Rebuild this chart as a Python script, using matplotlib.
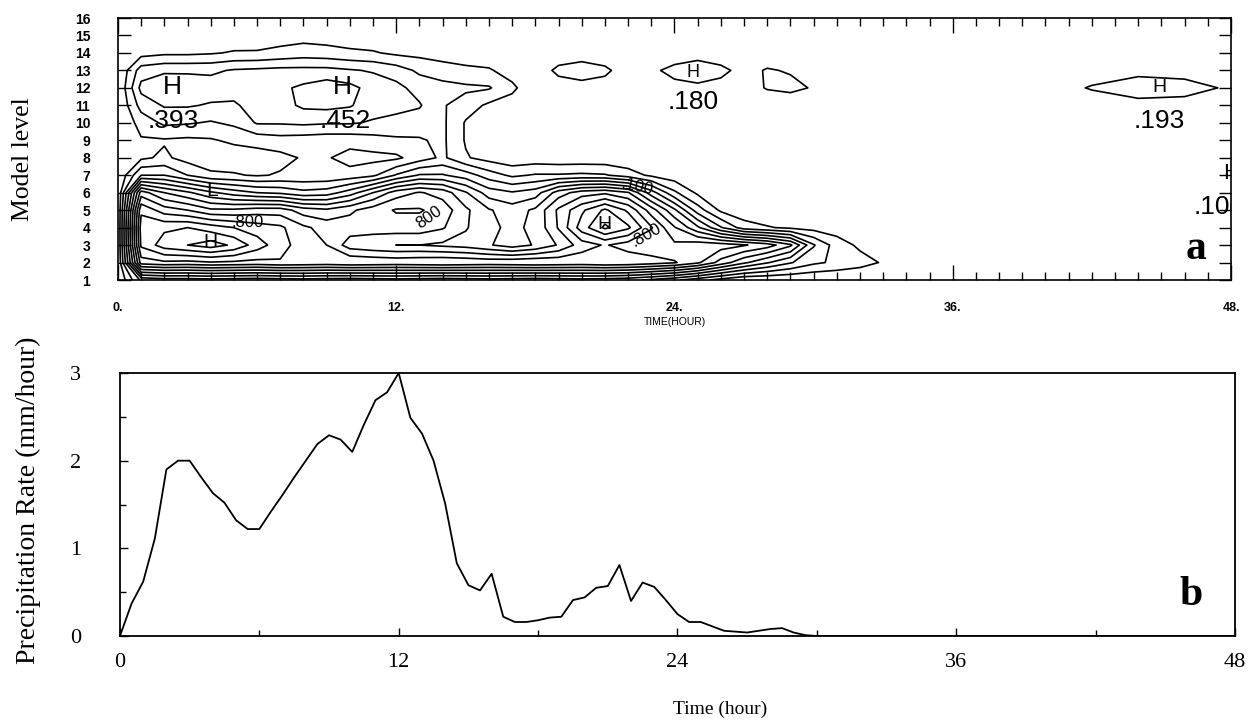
import numpy as np
import matplotlib.pyplot as plt

SERIF = 'Liberation Serif'
SANS = 'Liberation Sans'

# ---------------- panel a: time / model-level section (values x 100)
hours_a = list(range(0, 35)) + [36, 38, 40, 42, 44, 46, 48]
model_levels = list(range(1, 17))
# one profile per hour, model level 1 .. 16
profiles_a = [
    [0, 0, 0, 0, 0, 0, 0, 0, 0, 0, 0, 0, 0, 0, 0, 0],               # 0
    [32, 95, 112, 115, 108, 85, 30, 8, 9, 14, 24, 33, 25, 6, 0, 0],   # 1
    [35, 98, 125, 118, 95, 70, 30, 12, 9, 22, 31, 39, 28, 8, 0, 0],   # 2
    [35, 97, 130, 120, 90, 62, 20, 6, 8, 21, 31, 38, 28, 8, 1, 0],    # 3
    [36, 99, 135, 115, 82, 52, 12, 4, 9, 19, 29, 35, 28, 9, 2, 0],    # 4
    [35, 98, 128, 110, 82, 45, 11, 4, 12, 22, 29, 33, 31, 11, 3, 0],  # 5
    [34, 97, 115, 105, 85, 40, 9, 5, 14, 31, 33, 35, 32, 11, 4, 0],   # 6
    [35, 99, 104, 102, 85, 38, 11, 7, 16, 31, 36, 38, 33, 13, 5, 0],  # 7
    [36, 98, 95, 92, 75, 33, 12, 11, 15, 32, 42, 42, 33, 15, 6, 0],   # 8
    [35, 97, 90, 86, 72, 35, 12, 11, 14, 31, 43, 46, 33, 14, 5, 0],   # 9
    [34, 99, 75, 85, 78, 45, 14, 6, 14, 31, 41, 43, 31, 12, 4, 0],    # 10
    [35, 98, 72, 85, 85, 60, 18, 7, 16, 29, 34, 36, 29, 11, 3, 0],    # 11
    [36, 97, 70, 85, 91, 75, 31, 8, 18, 28, 32, 33, 25, 8, 2, 0],     # 12
    [35, 98, 70, 85, 91, 81, 41, 15, 19, 25, 31, 26, 18, 7, 2, 0],    # 13
    [34, 99, 68, 81, 86, 76, 41, 22, 22, 22, 21, 24, 14, 6, 1, 0],    # 14
    [35, 98, 66, 71, 72, 61, 35, 11, 9, 9, 15, 22, 12, 5, 0, 0],      # 15
    [36, 97, 61, 62, 61, 45, 25, 6, 5, 5, 8, 21, 11, 4, 0, 0],        # 16
    [35, 98, 55, 58, 55, 41, 18, 3, 2, 2, 6, 12, 6, 2, 0, 0],         # 17
    [34, 99, 61, 62, 62, 45, 21, 4, 1, 0, 1, 3, 5, 1, 0, 0],          # 18
    [35, 98, 71, 81, 82, 65, 21, 3, 0, 0, 1, 6, 12, 5, 0, 0],         # 19
    [36, 97, 85, 105, 98, 75, 22, 3, 0, 0, 1, 7, 14, 6, 0, 0],        # 20
    [35, 99, 91, 122, 112, 78, 21, 3, 0, 0, 0, 6, 12, 4, 0, 0],       # 21
    [33, 98, 85, 112, 98, 71, 15, 2, 0, 0, 0, 3, 5, 1, 0, 0],         # 22
    [28, 95, 82, 91, 75, 45, 8, 0, 0, 0, 0, 5, 8, 2, 0, 0],           # 23
    [22, 91, 82, 71, 52, 22, 4, 0, 0, 0, 0, 7, 13, 4, 0, 0],          # 24
    [14, 82, 86, 52, 25, 8, 2, 0, 0, 0, 2, 7, 18, 4, 0, 0],           # 25
    [6, 66, 85, 31, 8, 3, 0, 0, 0, 0, 1, 6, 13, 3, 0, 0],             # 26
    [0, 52, 81, 15, 3, 0, 0, 0, 0, 0, 0, 4, 6, 1, 0, 0],              # 27
    [0, 41, 75, 11, 1, 0, 0, 0, 0, 0, 1, 11, 11, 3, 0, 0],            # 28
    [0, 31, 62, 8, 0, 0, 0, 0, 0, 0, 2, 13, 9, 1, 0, 0],              # 29
    [0, 22, 31, 6, 0, 0, 0, 0, 0, 0, 1, 9, 2, 0, 0, 0],               # 30
    [0, 18, 15, 5, 0, 0, 0, 0, 0, 0, 0, 0, 0, 0, 0, 0],               # 31
    [0, 14, 8, 2, 0, 0, 0, 0, 0, 0, 0, 0, 0, 0, 0, 0],                # 32
    [0, 9, 4, 1, 0, 0, 0, 0, 0, 0, 0, 0, 0, 0, 0, 0],                 # 33
    [0, 5, 2, 0, 0, 0, 0, 0, 0, 0, 0, 0, 0, 0, 0, 0],                 # 34
    [0, 0, 0, 0, 0, 0, 0, 0, 0, 0, 0, 0, 0, 0, 0, 0],                 # 36
    [0, 0, 0, 0, 0, 0, 0, 0, 0, 0, 0, 2, 0, 0, 0, 0],                 # 38
    [0, 0, 0, 0, 0, 0, 0, 0, 0, 0, 1, 4, 1, 0, 0, 0],                 # 40
    [0, 0, 0, 0, 0, 0, 0, 0, 0, 0, 3, 11, 4, 0, 0, 0],                # 42
    [0, 0, 0, 0, 0, 0, 0, 0, 0, 0, 4, 19, 5, 0, 0, 0],                # 44
    [0, 0, 0, 0, 0, 0, 0, 0, 0, 0, 5, 15, 5, 0, 0, 0],                # 46
    [0, 0, 0, 0, 0, 0, 0, 0, 0, 0, 3, 8, 3, 0, 0, 0],                 # 48
]
contour_levels = [0.1, 0.2, 0.3, 0.4, 0.5, 0.6, 0.7, 0.8, 0.9, 1.0, 1.1, 1.2, 1.3]

# ---------------- panel b: precipitation rate
hours_b = [0, 0.5, 1, 1.5, 2, 2.5, 3, 3.5, 4, 4.5, 5, 5.5, 6, 6.5, 7, 7.5, 8, 8.5,
           9, 9.5, 10, 10.5, 11, 11.5, 12, 12.5, 13, 13.5, 14, 14.5, 15, 15.5, 16,
           16.5, 17, 17.5, 18, 18.5, 19, 19.5, 20, 20.5, 21, 21.5, 22, 22.5, 23,
           23.5, 24, 24.5, 25, 25.5, 26, 26.5, 27, 27.5, 28, 28.5, 29, 29.5, 30, 48]
precip = [0, 0.37, 0.62, 1.11, 1.90, 2.00, 2.00, 1.81, 1.63, 1.52, 1.32, 1.22, 1.22,
          1.42, 1.61, 1.81, 2.00, 2.19, 2.29, 2.24, 2.10, 2.41, 2.69, 2.78, 3.00,
          2.49, 2.31, 2.00, 1.51, 0.83, 0.58, 0.52, 0.71, 0.22, 0.16, 0.16, 0.18,
          0.21, 0.22, 0.41, 0.44, 0.55, 0.57, 0.81, 0.40, 0.61, 0.56, 0.41, 0.25,
          0.16, 0.16, 0.11, 0.06, 0.05, 0.04, 0.06, 0.08, 0.09, 0.04, 0.01, 0.0, 0.0]

field = np.array(profiles_a, dtype=float).T / 100.0

fig = plt.figure(figsize=(12.56, 7.23), dpi=100)
ax1 = fig.add_axes([0.0939, 0.6127, 0.8862, 0.3624])
ax2 = fig.add_axes([0.0955, 0.1203, 0.8878, 0.3638])

# --- panel a
ax1.contour(hours_a, model_levels, field, levels=contour_levels,
            colors='k', linewidths=1.2)
ax1.set_xlim(0, 48)
ax1.set_ylim(1, 16)
ax1.set_xticks([0, 12, 24, 36, 48])
ax1.set_xticklabels(['0.', '12.', '24.', '36.', '48.'])
ax1.set_xticks(range(49), minor=True)
ax1.set_yticks(model_levels)
ax1.tick_params(axis='x', which='major', direction='in', length=11, width=1,
                top=True, bottom=True, pad=16, labelsize=9)
ax1.tick_params(axis='x', which='minor', direction='in', length=6, width=1,
                top=True, bottom=True)
ax1.tick_params(axis='y', direction='in', length=9, width=1,
                left=True, right=True, pad=20, labelsize=10)
for lbl in ax1.get_xticklabels() + ax1.get_yticklabels():
    lbl.set_fontfamily(SANS)
    lbl.set_fontweight('bold')
for sp in ax1.spines.values():
    sp.set_linewidth(1.2)
ax1.set_xlabel('TIME(HOUR)', fontsize=7.5, family=SANS)
ax1.xaxis.set_label_coords(0.5, -0.14)
ax1.set_ylabel('Model level', fontsize=18.5, family=SERIF)
ax1.yaxis.set_label_coords(-0.0755, 0.46)

hk = dict(family=SANS, ha='center', va='center', color='k')
ax1.text(2.35, 12.05, 'H', fontsize=19, **hk)
ax1.text(2.4, 10.1, '.393', fontsize=19, **hk)
ax1.text(9.7, 12.05, 'H', fontsize=19, **hk)
ax1.text(9.8, 10.1, '.452', fontsize=19, **hk)
ax1.text(24.8, 12.9, 'H', fontsize=13, **hk)
ax1.text(24.8, 11.2, '.180', fontsize=19, **hk)
ax1.text(44.9, 12.0, 'H', fontsize=14, **hk)
ax1.text(44.9, 10.1, '.193', fontsize=19, **hk)
ax1.text(48.0, 7.1, 'H', fontsize=16, clip_on=True, **hk)
ax1.text(46.4, 5.2, '.100', fontsize=19, family=SANS, ha='left', va='center',
         clip_on=True)
ax1.text(4.0, 3.15, 'H', fontsize=14, **hk)
ax1.text(21.0, 4.15, 'H', fontsize=14, **hk)
ax1.text(4.05, 6.1, 'L', fontsize=15, **hk)
ax1.text(5.6, 4.3, '.800', fontsize=12, **hk)
ax1.text(13.4, 4.6, '800', fontsize=12, rotation=35, **hk)
ax1.text(22.4, 6.35, '.100', fontsize=12, rotation=-12, **hk)
ax1.text(22.8, 3.6, '.800', fontsize=12, rotation=30, **hk)
ax1.text(0.9686, 0.118, 'a', transform=ax1.transAxes, fontsize=30,
         fontweight='bold', family=SERIF, ha='center', va='center')

# --- panel b
ax2.plot(hours_b, precip, color='k', linewidth=1.3)
ax2.set_xlim(0, 48)
ax2.set_ylim(0, 3)
ax2.set_xticks([0, 12, 24, 36, 48])
ax2.set_xticks([6, 18, 30, 42], minor=True)
ax2.set_yticks([0, 1, 2, 3])
ax2.set_yticks([0.5, 1.5, 2.5], minor=True)
ax2.tick_params(which='major', direction='in', length=6, width=1, labelsize=16)
ax2.tick_params(which='minor', direction='in', length=4, width=1)
ax2.tick_params(axis='x', pad=12)
ax2.tick_params(axis='y', pad=28)
for lbl in ax2.get_xticklabels() + ax2.get_yticklabels():
    lbl.set_fontfamily(SERIF)
for sp in ax2.spines.values():
    sp.set_linewidth(1.3)
ax2.set_xlabel('Time (hour)', fontsize=14, family=SERIF)
ax2.xaxis.set_label_coords(0.538, -0.245)
ax2.set_ylabel('Precipitation Rate (mm/hour)', fontsize=20, family=SERIF)
ax2.yaxis.set_label_coords(-0.071, 0.517)
ax2.text(0.961, 0.156, 'b', transform=ax2.transAxes, fontsize=30,
         fontweight='bold', family=SERIF, ha='center', va='center')

fig.savefig('out.png', dpi=100)
